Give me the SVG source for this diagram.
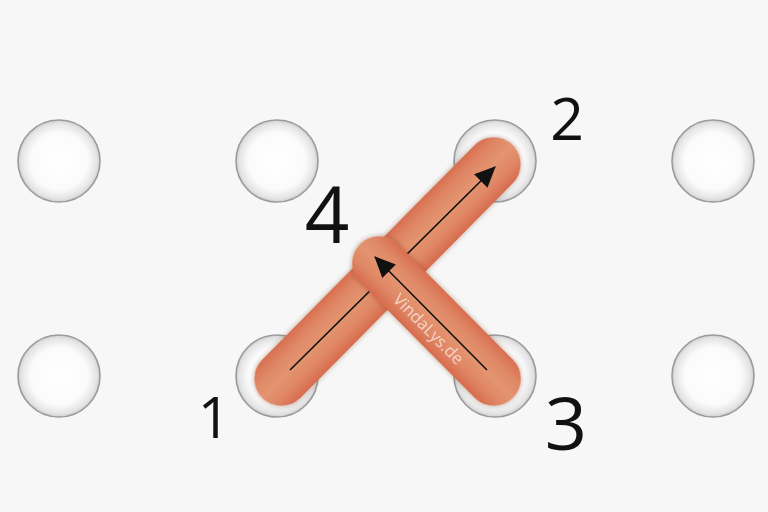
<svg xmlns="http://www.w3.org/2000/svg" width="768" height="512" viewBox="0 0 768 512">
  <defs>
    <radialGradient id="holeGrad" cx="0.5" cy="0.5" r="0.5">
      <stop offset="0" stop-color="#ffffff"/>
      <stop offset="0.7" stop-color="#fbfbfb"/>
      <stop offset="0.92" stop-color="#e4e4e4"/>
      <stop offset="1" stop-color="#cfcfcf"/>
    </radialGradient>
    <linearGradient id="barGrad" x1="0" y1="0" x2="0" y2="1">
      <stop offset="0" stop-color="#d86e4f"/>
      <stop offset="0.22" stop-color="#df8665"/>
      <stop offset="0.5" stop-color="#e49470"/>
      <stop offset="0.78" stop-color="#df8564"/>
      <stop offset="1" stop-color="#d66b4c"/>
    </linearGradient>
    <filter id="shadow" x="-20%" y="-40%" width="140%" height="180%">
      <feDropShadow dx="0" dy="0" stdDeviation="2.5" flood-color="#5a2a18" flood-opacity="0.4"/>
    </filter>
    <marker id="arrow" markerUnits="userSpaceOnUse" markerWidth="21" markerHeight="20" viewBox="0 0 21 20" refX="20" refY="10" orient="auto">
      <path d="M0,0.5 L21,10 L0,19.5 Z" fill="#111111"/>
    </marker>
  </defs>
  <style>
    .hole { fill: url(#holeGrad); stroke: #9b9b9b; stroke-width: 1.6; }
    .bar { fill: url(#barGrad); }
    .arrowline { stroke: #111111; stroke-width: 1.6; fill: none; marker-end: url(#arrow); }
    .num { font-family: "Open Sans", "Liberation Sans", sans-serif; font-weight: 400; fill: #111111; text-anchor: middle; }
    .wm { font-family: "Open Sans", "Liberation Sans", sans-serif; font-size: 16.5px; fill: #ffffff; fill-opacity: 0.65; text-anchor: middle; }
  </style>
  <rect width="768" height="512" fill="#f7f7f7"/>

  <g id="holes">
    <g id="hole-a1"><circle class="hole" cx="59" cy="161" r="41"/></g>
    <g id="hole-a2"><circle class="hole" cx="277" cy="161" r="41"/></g>
    <g id="hole-a3"><circle class="hole" cx="495" cy="161" r="41"/></g>
    <g id="hole-a4"><circle class="hole" cx="713" cy="161" r="41"/></g>
    <g id="hole-b1"><circle class="hole" cx="59" cy="376" r="41"/></g>
    <g id="hole-b2"><circle class="hole" cx="277" cy="376" r="41"/></g>
    <g id="hole-b3"><circle class="hole" cx="495" cy="376" r="41"/></g>
    <g id="hole-b4"><circle class="hole" cx="713" cy="376" r="41"/></g>
  </g>

  <g id="connectors">
    <g id="bar-1-2">
      <g transform="translate(387.5 271.5) rotate(-45.3)">
        <rect class="bar" x="-178" y="-27" width="356" height="54" rx="27" filter="url(#shadow)"/>
      </g>
      <line class="arrowline" x1="290" y1="370" x2="495" y2="167"/>
    </g>
    <g id="bar-3-4">
      <g transform="translate(436.5 321) rotate(45.2)">
        <rect class="bar" x="-108.5" y="-27" width="217" height="54" rx="27" filter="url(#shadow)"/>
      </g>
      <line class="arrowline" x1="487" y1="370" x2="375" y2="257"/>
      <g transform="translate(436.5 321) rotate(45.2)">
        <text class="wm" x="0" y="17">VindaLys.de</text>
      </g>
    </g>
  </g>

  <g id="labels">
    <text class="num" x="214" y="438" font-size="57">1</text>
    <text class="num" x="567" y="140" font-size="59">2</text>
    <text class="num" x="566" y="450" font-size="74">3</text>
    <text class="num" x="327" y="243" font-size="78">4</text>
  </g>
</svg>
